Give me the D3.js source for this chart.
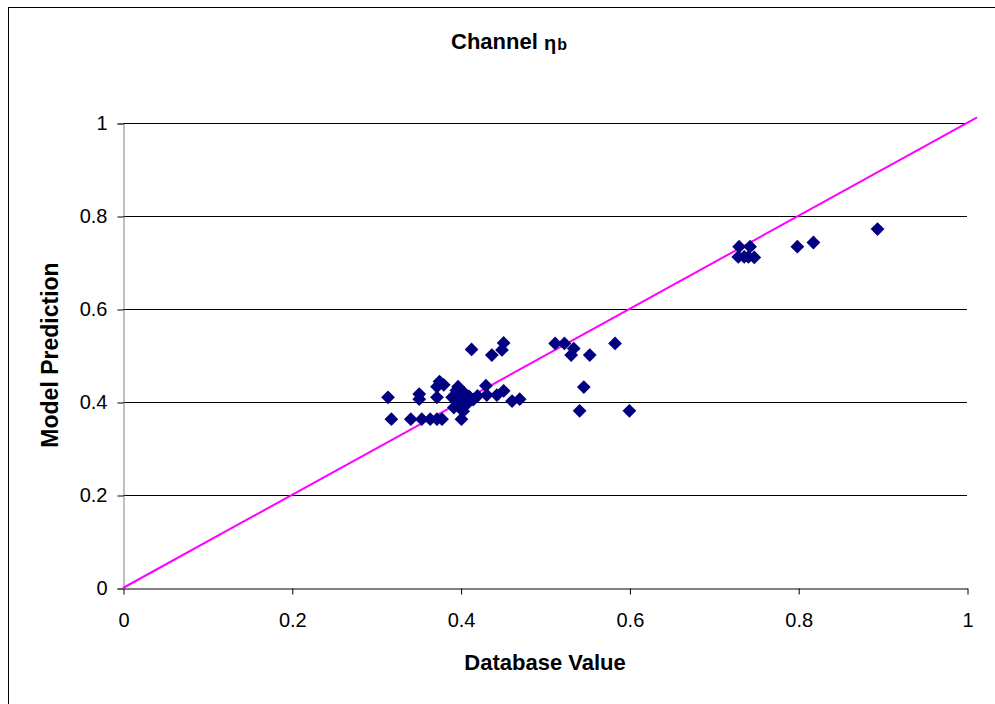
<!DOCTYPE html>
<html>
<head>
<meta charset="utf-8">
<script src="https://cdn.jsdelivr.net/npm/d3@7"></script>
<style>
  html, body { margin: 0; padding: 0; background: #fff; }
  svg { display: block; font-family: "Liberation Sans", Arial, sans-serif; }
</style>
</head>
<body>
<svg id="chart" width="995" height="704"></svg>
<script>
// Database value vs. model prediction for channel η_b
const databaseValue = [
  0.314, 0.318, 0.341, 0.351, 0.351, 0.354, 0.364, 0.372, 0.378, 0.372,
  0.372, 0.375, 0.380, 0.390, 0.392, 0.395, 0.397, 0.398, 0.399, 0.400,
  0.401, 0.403, 0.404, 0.405, 0.407, 0.410, 0.413, 0.415, 0.420, 0.430,
  0.431, 0.437, 0.443, 0.449, 0.451, 0.451, 0.461, 0.470, 0.512, 0.523,
  0.534, 0.531, 0.553, 0.583, 0.546, 0.541, 0.600, 0.730, 0.743, 0.729,
  0.736, 0.741, 0.748, 0.799, 0.818, 0.894
];
const modelPrediction = [
  0.410, 0.363, 0.363, 0.417, 0.406, 0.363, 0.363, 0.363, 0.363, 0.410,
  0.433, 0.444, 0.437, 0.410, 0.388, 0.425, 0.433, 0.415, 0.401, 0.392,
  0.363, 0.380, 0.420, 0.405, 0.395, 0.412, 0.513, 0.405, 0.413, 0.435,
  0.415, 0.501, 0.415, 0.512, 0.527, 0.424, 0.402, 0.406, 0.526, 0.526,
  0.515, 0.501, 0.501, 0.526, 0.432, 0.381, 0.381, 0.734, 0.734, 0.712,
  0.712, 0.712, 0.711, 0.734, 0.743, 0.772
];
// Reference line y = x
const identityLine = [0, 1.012];
const xTicks = [0, 0.2, 0.4, 0.6, 0.8, 1];
const yTicks = [0, 0.2, 0.4, 0.6, 0.8, 1];

const svg = d3.select("#chart");

// Outer chart frame
svg.append("rect")
  .attr("x", 8.5).attr("y", 7.5)
  .attr("width", 1100).attr("height", 800)
  .attr("fill", "#fff").attr("stroke", "#000").attr("stroke-width", 1);

const plotLeft = 123, plotRight = 967, plotTop = 123, plotBottom = 588;
const x = d3.scaleLinear().domain([0, 1]).range([plotLeft, plotRight]);
const y = d3.scaleLinear().domain([0, 1]).range([plotBottom, plotTop]);

// Horizontal gridlines
svg.append("g")
  .selectAll("line")
  .data(yTicks.filter(d => d > 0))
  .join("line")
  .attr("x1", plotLeft).attr("x2", plotRight)
  .attr("y1", d => Math.round(y(d)) + 0.5)
  .attr("y2", d => Math.round(y(d)) + 0.5)
  .attr("stroke", "#000").attr("stroke-width", 1);

const tickFont = 20;

// Y axis
const yAxis = svg.append("g")
  .attr("transform", `translate(${plotLeft + 0.5},0.5)`)
  .call(d3.axisLeft(y).tickValues(yTicks).tickSize(6).tickPadding(10)
    .tickFormat(d3.format("~g")));
yAxis.select(".domain").attr("stroke", "#808080");
yAxis.selectAll(".tick line").attr("stroke", "#000");
yAxis.selectAll(".tick text")
  .attr("font-size", tickFont).attr("fill", "#000")
  .attr("font-family", "Liberation Sans, Arial, sans-serif");

// X axis
const xAxis = svg.append("g")
  .attr("transform", `translate(0.5,${plotBottom + 0.5})`)
  .call(d3.axisBottom(x).tickValues(xTicks).tickSize(6).tickSizeOuter(0).tickPadding(18)
    .tickFormat(d3.format("~g")));
xAxis.select(".domain").attr("stroke", "#000");
xAxis.selectAll(".tick line").attr("stroke", "#000");
xAxis.selectAll(".tick text")
  .attr("font-size", tickFont).attr("fill", "#000")
  .attr("font-family", "Liberation Sans, Arial, sans-serif");

// y = x reference line
svg.append("line")
  .attr("x1", x(identityLine[0])).attr("y1", y(identityLine[0]))
  .attr("x2", x(identityLine[1])).attr("y2", y(identityLine[1]))
  .attr("stroke", "#ff00ff").attr("stroke-width", 2);

// Data points as diamonds
const diamond = d3.symbol().type(d3.symbolSquare).size(95);
svg.append("g")
  .selectAll("path")
  .data(databaseValue.map((v, i) => [v, modelPrediction[i]]))
  .join("path")
  .attr("d", diamond)
  .attr("transform", d => `translate(${x(d[0])},${y(d[1])}) rotate(45)`)
  .attr("fill", "#000080");

// Title
const title = svg.append("text")
  .attr("x", 451).attr("y", 49)
  .attr("text-anchor", "start")
  .attr("font-size", 22).attr("font-weight", "bold");
title.append("tspan").text("Channel ");
title.append("tspan").attr("font-size", 20).attr("dy", 1).text("η");
title.append("tspan").attr("font-size", 16).attr("dx", 1).text("b");

// Axis titles
svg.append("text")
  .attr("x", 545).attr("y", 670)
  .attr("text-anchor", "middle")
  .attr("font-size", 22).attr("font-weight", "bold")
  .text("Database Value");

svg.append("text")
  .attr("transform", "translate(58,355) rotate(-90)")
  .attr("text-anchor", "middle")
  .attr("font-size", 23).attr("font-weight", "bold")
  .text("Model Prediction");
</script>
</body>
</html>
